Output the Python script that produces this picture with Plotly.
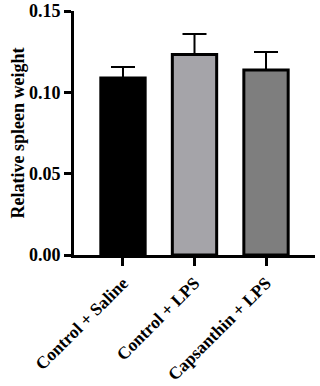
import plotly.graph_objects as go

groups = ["Control + Saline", "Control + LPS", "Capsanthin + LPS"]
means = [0.1088, 0.1232, 0.1137]
sd = [0.0068, 0.0127, 0.0111]
colors = ["#000000", "#a5a4a9", "#7e7e7e"]

font = "Liberation Serif"

fig = go.Figure()
fig.add_trace(go.Bar(
    x=list(range(len(groups))),
    y=means,
    width=0.62,
    marker=dict(color=colors, line=dict(color="black", width=3)),
    error_y=dict(type="data", array=sd, arrayminus=[0] * len(sd), symmetric=False,
                 color="black", thickness=2, width=12),
))

fig.update_layout(
    width=320, height=386,
    margin=dict(l=74, r=5, t=11, b=131),
    plot_bgcolor="white", paper_bgcolor="white",
    showlegend=False,
    font=dict(family=font, color="black"),
)
fig.update_xaxes(
    range=[-0.685, 2.685],
    tickvals=list(range(len(groups))),
    ticktext=["<b>" + g + "</b>" for g in groups],
    tickangle=-45,
    tickfont=dict(size=17.5, family=font, color="black"),
    showline=True, linecolor="black", linewidth=3,
    ticks="outside", ticklen=8, tickwidth=3, tickcolor="black",
    showgrid=False, zeroline=False, automargin=False,
)
fig.update_yaxes(
    range=[0, 0.15],
    tickvals=[0, 0.05, 0.10, 0.15],
    ticktext=["<b>0.00</b>", "<b>0.05</b>", "<b>0.10</b>", "<b>0.15</b>"],
    tickfont=dict(size=18, family=font, color="black"),
    title=dict(text="<b>Relative spleen weight</b>", font=dict(size=18, family=font, color="black"), standoff=0),
    showline=True, linecolor="black", linewidth=3,
    ticks="outside", ticklen=7, tickwidth=3, tickcolor="black",
    showgrid=False, zeroline=False, automargin=False,
)

# page has a default body margin; drop it so the figure sits at 0,0
fig.write_html("out.html", config={"displayModeBar": False},
               post_script="document.body.style.margin='0';")
